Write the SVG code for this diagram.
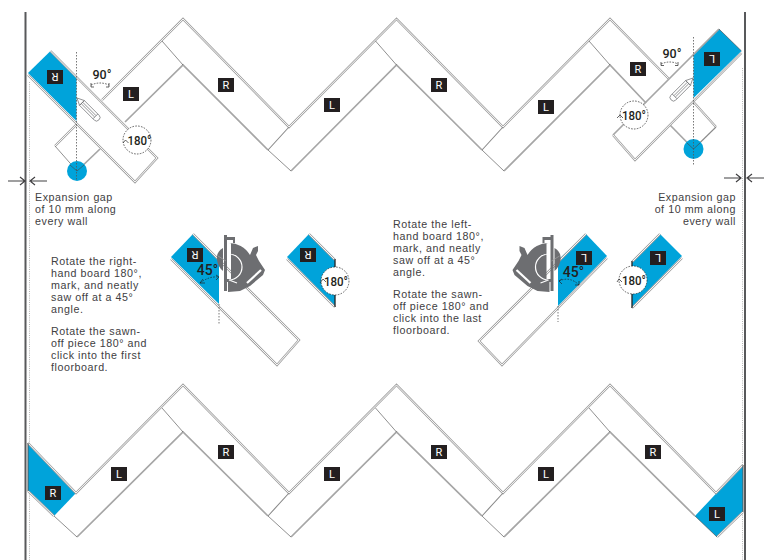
<svg xmlns="http://www.w3.org/2000/svg" width="764" height="560" viewBox="0 0 764 560">
<style>
text{font-family:"Liberation Sans",Arial,sans-serif;font-size:10.7px;fill:#414042;letter-spacing:.55px}
.o,.i,.s,.t,.k,.c,.a{fill:none}
.o{stroke:#a3a3a3;stroke-width:2.3;stroke-linejoin:miter}
.i{stroke:#fff;stroke-width:.9;stroke-linejoin:miter}
.s{stroke:#a6a6a6;stroke-width:1.7;stroke-linejoin:miter}
.t{stroke:#444;stroke-width:.6}
.m{fill:none;stroke:#8a8a8a;stroke-width:1.1}
.k{stroke:#222;stroke-width:1.3}
.b{fill:#00a3da}
.v{fill:none;stroke:#555;stroke-width:.8;stroke-dasharray:1.5 1.5}
.g{fill:none;stroke:#b5b5b5;stroke-width:1;stroke-dasharray:1 1.2}
.w{stroke:#58595b;stroke-width:2;fill:none}
.r{stroke:#414042;stroke-width:1.2;fill:none}
.c{stroke:#222;stroke-width:.7;stroke-dasharray:1.6 1.3}
.a{stroke:#222;stroke-width:.7}
.l{fill:#231f20}
.lt{font-family:"Roboto","Liberation Sans",sans-serif;font-size:11px;fill:#fff;text-anchor:middle;letter-spacing:0}
.deg{font-family:"Roboto","Liberation Sans",sans-serif;font-size:13px;font-weight:500;fill:#231f20;text-anchor:middle;letter-spacing:0}
.big{font-size:14px}
.p{fill:#fff;stroke:#6d6e71;stroke-width:.7}
.sd{fill:#6d6e71}
</style>
<defs>
<g id="tag"><rect class="l" x="-8" y="-7" width="16" height="14"/></g>
<g id="pencil"><path class="p" d="M0,0L7,-3.4V3.4ZM7,-3.4H28Q31,-3.4 31,0Q31,3.400 28,3.400H7Z"/><path class="p" d="M7,-1H26M7,1H26M26,-3.400V3.400"/></g>
<g id="saw">
<path class="sd" d="M223,248Q216,252 217,260Q218,267 223,271Z"/>
<path class="sd" d="M224,235H227V291H224ZM227,237H235V243H233V240H227ZM227,279H235V282H227Z"/>
<path class="sd" d="M228,243A24,24 0 0 1 250,255L253,248L258,246L258,251L256,255L259,261L265,270L263,275L250,286L240,291L228,292L228,282L231,281V243Z"/>
<path d="M229,254A13,13 0 0 1 229,280L237,283" fill="none" stroke="#fff" stroke-width="1.2"/>
<path d="M247,283L261,270" stroke="#fff" stroke-width="2.2" fill="none"/>
<path d="M226,261L218,256" stroke="#999" stroke-width=".8" fill="none"/>
</g>
</defs>

<g id="walls">
<path class="w" d="M25.500,12V560"/>
<path class="w" d="M745,12V560"/>
<path class="g" d="M29.500,82V560"/>
<path class="g" d="M742.500,68V560"/>
</g>

<g id="row-top">
<path class="b" d="M50.500,51L28,73L76.500,121V77Z"/>
<path class="b" d="M719,29L741.500,51L693.500,98V55Z"/>
<g id="ghost-left"><path class="o" d="M77,124L55,146"/><path class="i" d="M77,124L55,146"/><path class="t" d="M55,146L77,171"/><path class="s" d="M77,171L100,149"/></g>
<g id="ghost-right"><path class="o" d="M693.500,102L716,127"/><path class="i" d="M693.500,102L716,127"/><path class="m" d="M716,127L693.500,149"/><path class="s" d="M693.500,149L670,125"/></g>
<path class="o" d="M102,100L183,19L289,127L396.500,19L503,127L610,19L669,79"/>
<path class="i" d="M102,100L183,19L289,127L396.500,19L503,127L610,19L669,79"/>
<path class="s" d="M125,122L183,65L268,150M291,171L396.500,65L482,150M504,171L610,65L646,103"/>
<path class="t" d="M162,41L183,65M268,150L291,171M375.500,41L396.500,65M482,150L504,171M589,41L610,65"/>
<path class="m" d="M289,127L268,150M503,127L482,150"/>
<g id="board-top-left">
<path class="o" d="M50.500,51L157,158L135,182L28,75"/><path class="i" d="M50.500,51L157,158L135,182L28,75"/>
</g>
<g id="board-top-right">
<path class="s" d="M719,29L613,135"/>
<path class="o" d="M613,135L635,160L741.500,53"/><path class="i" d="M613,135L635,160L741.500,53"/>
<path class="t" d="M719,29L741.500,51"/>
</g>
<circle class="b" cx="77" cy="171" r="10"/>
<circle class="b" cx="693.500" cy="149" r="10"/>
<path class="v" d="M76.500,52V180M693.500,37V165"/>
<path class="t" d="M70,165L77,171L84,165M687,143L693.500,149L700,143"/>
<use href="#pencil" transform="translate(77,98) rotate(45)"/>
<use href="#pencil" transform="translate(693,78) rotate(135)"/>
</g>

<g id="row-bottom">
<path class="b" d="M28,443L76,493L54,516L28,491Z"/>
<path class="b" d="M743,465V512L717,537L695,516Z"/>
<path class="o" d="M28,443L76,493L183,385L289,493L396.500,385L503,493L610,385L716,493L743,465"/>
<path class="i" d="M28,443L76,493L183,385L289,493L396.500,385L503,493L610,385L716,493L743,465"/>
<path class="o" d="M28,491L54,516M717,537L743,512"/><path class="i" d="M28,491L54,516M717,537L743,512"/>
<path class="s" d="M77,537L183,432L268,516M291,537L396.500,432L482,516M504,537L610,432L695,516"/>
<path class="t" d="M54,516L77,537M162,408L183,432M268,516L291,537M375.500,408L396.500,432M482,516L504,537M589,408L610,432M695,516L717,537"/>
<path class="m" d="M289,493L268,516M503,493L482,516"/>
<path d="M28,443V491M743,465V512" stroke="#555" stroke-width="1" fill="none"/>
</g>

<g id="mid-left">
<path class="b" d="M193,234L171,257L219,304V260Z"/>
<path class="o" d="M193,234L299,340L277,365L171,259"/><path class="i" d="M193,234L299,340L277,365L171,259"/>
<path class="v" d="M219,304V324"/>
<use href="#saw"/>
<text class="deg big" x="207.500" y="275">45°</text>
<path class="c" d="M200,283Q209,276 219,277"/>
<path class="a" d="M203,279L200,283L205,283M216,275L219,277L216,280"/>
</g>
<g id="mid-left-piece">
<path class="b" d="M309,234L287,257L335,306V259Z"/>
<path class="o" d="M309,234L335,260M287,259L335,307"/><path class="i" d="M309,234L335,260M287,259L335,307"/>
<path class="k" d="M335,259V307"/>
<circle cx="335" cy="281" r="14" fill="#fff"/>
<circle class="c" cx="335" cy="281" r="14"/>
<text class="deg" x="336" y="285.500" textLength="24" lengthAdjust="spacingAndGlyphs">180°</text>
<path class="a" d="M320,283L323,279L326,282"/>
</g>

<g id="mid-right">
<path class="b" d="M586,234L607,256L558,306V260Z"/>
<path class="o" d="M586,234L479,341L502,365L607,258"/><path class="i" d="M586,234L479,341L502,365L607,258"/>
<path class="v" d="M558,306V322"/>
<use href="#saw" transform="translate(777.500,0) scale(-1,1)"/>
<text class="deg big" x="573.500" y="277">45°</text>
<path class="c" d="M559,281Q570,276 579,285"/>
<path class="a" d="M562,279L559,281L562,284M575,285L579,285L579,281"/>
</g>
<g id="mid-right-piece">
<path class="b" d="M660,234L682,256L632,307V261Z"/>
<path class="o" d="M660,234L632,262M682,258L632,308"/><path class="i" d="M660,234L632,262M682,258L632,308"/>
<path class="k" d="M632,261V308"/>
<circle cx="633" cy="280" r="14" fill="#fff"/>
<circle class="c" cx="633" cy="280" r="14"/>
<text class="deg" x="634" y="285" textLength="24" lengthAdjust="spacingAndGlyphs">180°</text>
<path class="a" d="M617,282L619,279L622,282"/>
</g>

<g id="rotate-top-left">
<circle cx="137" cy="140" r="14" fill="#fff"/>
<circle class="c" cx="137" cy="140" r="14"/>
<text class="deg" x="139.500" y="144.500" textLength="24" lengthAdjust="spacingAndGlyphs">180°</text>
<path class="a" d="M123,143L125.500,140L128.500,143"/>
</g>
<g id="rotate-top-right">
<circle cx="634" cy="115" r="14" fill="#fff"/>
<circle class="c" cx="634" cy="115" r="14"/>
<text class="deg" x="634" y="120" textLength="24" lengthAdjust="spacingAndGlyphs">180°</text>
<path class="a" d="M617,118L620,115L623,118"/>
</g>
<g id="angle-left">
<text class="deg" x="102" y="78.500" textLength="19" lengthAdjust="spacingAndGlyphs">90°</text>
<path class="c" d="M91,85Q100,81 109,85"/>
<path class="a" d="M91,83V87H94M109,83V87H106"/>
</g>
<g id="angle-right">
<text class="deg" x="672" y="57.500" textLength="19" lengthAdjust="spacingAndGlyphs">90°</text>
<path class="c" d="M661,64Q670,60 678,64"/>
<path class="a" d="M661,62V65.500H664M678,62V65.500H675"/>
</g>

<g id="tags">
<g><use href="#tag" x="55" y="77"/><text class="lt" transform="rotate(180 55 77)" x="55" y="81">R</text></g>
<g><use href="#tag" x="131" y="94"/><text class="lt" x="131" y="98">L</text></g>
<g><use href="#tag" x="226" y="85"/><text class="lt" x="226" y="89">R</text></g>
<g><use href="#tag" x="332" y="105"/><text class="lt" x="332" y="109">L</text></g>
<g><use href="#tag" x="439" y="85"/><text class="lt" x="439" y="89">R</text></g>
<g><use href="#tag" x="546" y="107"/><text class="lt" x="546" y="111">L</text></g>
<g><use href="#tag" x="638" y="69"/><text class="lt" x="638" y="73">R</text></g>
<g><use href="#tag" x="712" y="59"/><text class="lt" transform="rotate(180 712 59)" x="712" y="63">L</text></g>
<g><use href="#tag" x="195" y="255"/><text class="lt" transform="rotate(180 195 255)" x="195" y="259">R</text></g>
<g><use href="#tag" x="308" y="255"/><text class="lt" transform="rotate(180 308 255)" x="308" y="259">R</text></g>
<g><use href="#tag" x="584" y="258"/><text class="lt" transform="rotate(180 584 258)" x="584" y="262">L</text></g>
<g><use href="#tag" x="658" y="258"/><text class="lt" transform="rotate(180 658 258)" x="658" y="262">L</text></g>
<g><use href="#tag" x="53" y="493"/><text class="lt" x="53" y="497">R</text></g>
<g><use href="#tag" x="119" y="474"/><text class="lt" x="119" y="478">L</text></g>
<g><use href="#tag" x="226" y="452"/><text class="lt" x="226" y="456">R</text></g>
<g><use href="#tag" x="332" y="474"/><text class="lt" x="332" y="478">L</text></g>
<g><use href="#tag" x="439" y="452"/><text class="lt" x="439" y="456">R</text></g>
<g><use href="#tag" x="546" y="474"/><text class="lt" x="546" y="478">L</text></g>
<g><use href="#tag" x="653" y="452"/><text class="lt" x="653" y="456">R</text></g>
<g><use href="#tag" x="717" y="514"/><text class="lt" x="717" y="518">L</text></g>
</g>

<g id="connectors">
<path class="r" d="M8,181H24M20,177L25,181L20,185M47,181H31M35,177L30,181L35,185"/>
<path class="r" d="M724,178H740M736,174L741,178L736,182M764,178H748M752,174L747,178L752,182"/>
</g>

<g id="texts">
<text x="35" y="201">Expansion gap<tspan x="35" dy="12">of 10 mm along</tspan><tspan x="35" dy="12">every wall</tspan></text>
<text x="736" y="201" text-anchor="end">Expansion gap<tspan x="736" dy="12">of 10 mm along</tspan><tspan x="736" dy="12">every wall</tspan></text>
<text x="51" y="265">Rotate the right-<tspan x="51" dy="12">hand board 180°,</tspan><tspan x="51" dy="12">mark, and neatly</tspan><tspan x="51" dy="12">saw off at a 45°</tspan><tspan x="51" dy="12">angle.</tspan></text>
<text x="51" y="335">Rotate the sawn-<tspan x="51" dy="12">off piece 180° and</tspan><tspan x="51" dy="12">click into the first</tspan><tspan x="51" dy="12">floorboard.</tspan></text>
<text x="393" y="228">Rotate the left-<tspan x="393" dy="12">hand board 180°,</tspan><tspan x="393" dy="12">mark, and neatly</tspan><tspan x="393" dy="12">saw off at a 45°</tspan><tspan x="393" dy="12">angle.</tspan></text>
<text x="393" y="298">Rotate the sawn-<tspan x="393" dy="12">off piece 180° and</tspan><tspan x="393" dy="12">click into the last</tspan><tspan x="393" dy="12">floorboard.</tspan></text>
</g>
</svg>
